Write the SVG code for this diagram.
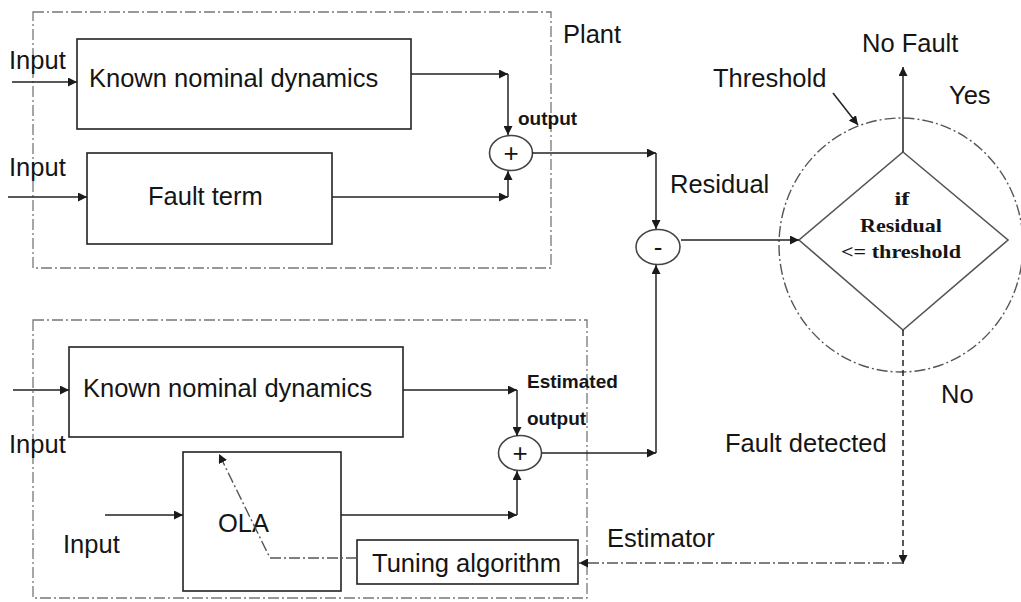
<svg xmlns="http://www.w3.org/2000/svg" width="1021" height="602" viewBox="0 0 1021 602">
  <style>
    .lbl { font-family: "Liberation Sans", Arial, sans-serif; font-size: 25.5px; fill: #151515; }
    .sm { font-family: "Liberation Sans", Arial, sans-serif; font-size: 19px; font-weight: bold; fill: #151515; }
    .dec { font-family: "Liberation Serif", "Times New Roman", serif; font-size: 19.5px; font-weight: bold; fill: #151515; text-anchor: middle; }
    .sym { font-family: "Liberation Sans", Arial, sans-serif; font-size: 26px; fill: #151515; text-anchor: middle; }
    .box { fill: #fff; stroke: #222; stroke-width: 1.6; }
    .group { fill: none; stroke: #777; stroke-width: 1.3; stroke-dasharray: 11 3 2 3; }
    .sum { fill: #fff; stroke: #444; stroke-width: 1.6; }
    .wire { fill: none; stroke: #222; stroke-width: 1.5; }
    .dashed { fill: none; stroke: #222; stroke-width: 1.5; stroke-dasharray: 6 4; }
    .dashdot { fill: none; stroke: #555; stroke-width: 1.4; stroke-dasharray: 11 3 2 3; }
  </style>
  <defs>
    <marker id="arrow" viewBox="0 0 10 10" refX="10" refY="5" markerWidth="9" markerHeight="9" markerUnits="userSpaceOnUse" orient="auto">
      <path d="M0,0 L10,5 L0,10 z" fill="#1a1a1a"/>
    </marker>
  </defs>
  <rect width="1021" height="602" fill="#fff"/>

  <!-- plant and estimator groupings -->
  <g id="plant">
    <rect class="group" x="33" y="12" width="518" height="256"/>
    <text class="lbl" x="563" y="43">Plant</text>
  </g>
  <g id="estimator">
    <rect class="group" x="33" y="320" width="554" height="278"/>
    <text class="lbl" x="607" y="547">Estimator</text>
  </g>

  <!-- plant blocks -->
  <g id="plant-nominal">
    <rect class="box" x="77" y="39" width="334" height="90"/>
    <text class="lbl" x="89" y="87">Known nominal dynamics</text>
  </g>
  <g id="fault-term">
    <rect class="box" x="87" y="153" width="245" height="91"/>
    <text class="lbl" x="148" y="205">Fault term</text>
  </g>
  <g id="plant-sum">
    <ellipse class="sum" cx="511" cy="153" rx="21.5" ry="17.5"/>
    <text class="sym" x="511" y="162">+</text>
    <text class="sm" x="518" y="125">output</text>
  </g>

  <!-- residual generator -->
  <g id="residual-sum">
    <ellipse class="sum" cx="658" cy="247" rx="22" ry="17.5"/>
    <text class="sym" x="658" y="256">-</text>
    <text class="lbl" x="670" y="193">Residual</text>
  </g>

  <!-- threshold decision -->
  <g id="decision">
    <ellipse class="dashdot" cx="901" cy="245" rx="122" ry="127"/>
    <polygon points="903,152 1008,240 903,330 799,240" fill="#fff" stroke="#555" stroke-width="1.6"/>
    <text class="dec" x="902" y="205" textLength="15" lengthAdjust="spacingAndGlyphs">if</text>
    <text class="dec" x="901" y="232" textLength="82" lengthAdjust="spacingAndGlyphs">Residual</text>
    <text class="dec" x="901" y="258" textLength="120" lengthAdjust="spacingAndGlyphs">&lt;= threshold</text>
    <text class="lbl" x="713" y="87">Threshold</text>
    <text class="lbl" x="862" y="52">No Fault</text>
    <text class="lbl" x="949" y="104">Yes</text>
    <text class="lbl" x="941" y="403">No</text>
    <text class="lbl" x="725" y="452">Fault detected</text>
  </g>

  <!-- estimator blocks -->
  <g id="model-nominal">
    <rect class="box" x="69" y="347" width="334" height="90"/>
    <text class="lbl" x="83" y="397">Known nominal dynamics</text>
  </g>
  <g id="ola">
    <rect class="box" x="183" y="452" width="158" height="139"/>
    <text class="lbl" x="218" y="532">OLA</text>
  </g>
  <g id="tuning">
    <rect class="box" x="357" y="540" width="221" height="44"/>
    <text class="lbl" x="372" y="572">Tuning algorithm</text>
  </g>
  <g id="model-sum">
    <ellipse class="sum" cx="520" cy="453" rx="21.5" ry="17.5"/>
    <text class="sym" x="520" y="462">+</text>
    <text class="sm" x="527" y="388">Estimated</text>
    <text class="sm" x="527" y="425">output</text>
  </g>

  <!-- input labels -->
  <g id="inputs">
    <text class="lbl" x="9" y="69">Input</text>
    <text class="lbl" x="9" y="176">Input</text>
    <text class="lbl" x="9" y="453">Input</text>
    <text class="lbl" x="63" y="553">Input</text>
  </g>

  <!-- signal connectors -->
  <g id="connectors">
    <line class="wire" x1="12" y1="82" x2="77" y2="82" marker-end="url(#arrow)"/>
    <line class="wire" x1="8" y1="197" x2="87" y2="197" marker-end="url(#arrow)"/>
    <line class="wire" x1="411" y1="74" x2="508" y2="74" marker-end="url(#arrow)"/>
    <line class="wire" x1="508" y1="74" x2="508" y2="135" marker-end="url(#arrow)"/>
    <line class="wire" x1="332" y1="197" x2="508" y2="197" marker-end="url(#arrow)"/>
    <line class="wire" x1="508" y1="197" x2="508" y2="171" marker-end="url(#arrow)"/>
    <line class="wire" x1="532" y1="153" x2="656" y2="153" marker-end="url(#arrow)"/>
    <line class="wire" x1="656" y1="153" x2="656" y2="229" marker-end="url(#arrow)"/>
    <line class="wire" x1="681" y1="240" x2="799" y2="240" marker-end="url(#arrow)"/>
    <line class="wire" x1="903" y1="152" x2="903" y2="67" marker-end="url(#arrow)"/>
    <line class="wire" x1="833" y1="93" x2="858" y2="125" marker-end="url(#arrow)"/>
    <line class="dashed" x1="903" y1="330" x2="903" y2="564" marker-end="url(#arrow)"/>
    <line class="dashdot" x1="903" y1="563" x2="579" y2="563" marker-end="url(#arrow)"/>
    <line class="wire" x1="13" y1="390" x2="69" y2="390" marker-end="url(#arrow)"/>
    <line class="wire" x1="403" y1="390" x2="517" y2="390" marker-end="url(#arrow)"/>
    <line class="wire" x1="517" y1="390" x2="517" y2="436" marker-end="url(#arrow)"/>
    <line class="wire" x1="105" y1="515" x2="183" y2="515" marker-end="url(#arrow)"/>
    <line class="wire" x1="341" y1="515" x2="517" y2="515" marker-end="url(#arrow)"/>
    <line class="wire" x1="517" y1="515" x2="517" y2="471" marker-end="url(#arrow)"/>
    <line class="wire" x1="542" y1="453" x2="656" y2="453" marker-end="url(#arrow)"/>
    <line class="wire" x1="656" y1="453" x2="656" y2="265" marker-end="url(#arrow)"/>
    <polyline class="dashdot" points="357,558 270,558 219,454" marker-end="url(#arrow)"/>
  </g>
</svg>
